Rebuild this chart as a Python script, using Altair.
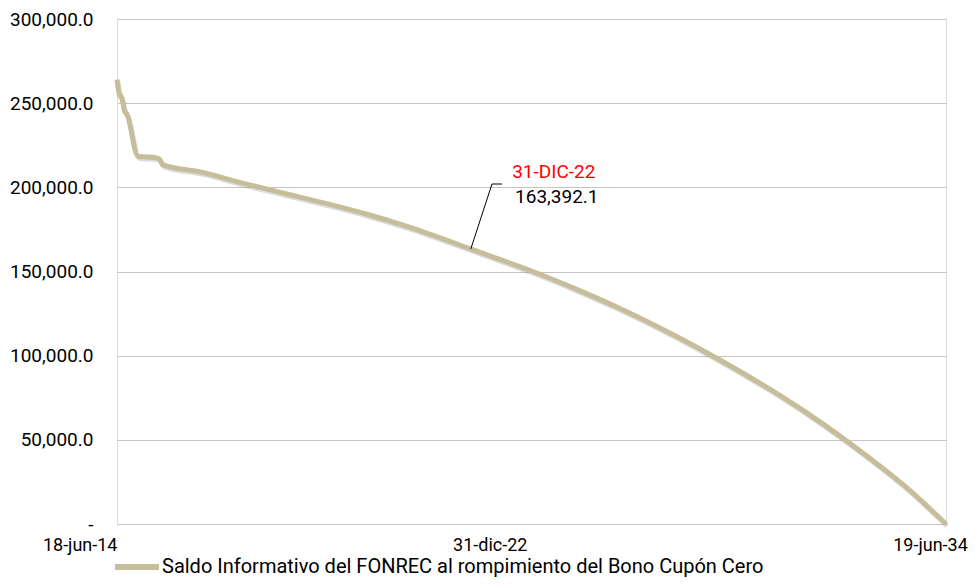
import altair as alt
import pandas as pd

# ---- data ----
fechas = [
    "2014-06-18", "2014-07-10", "2014-07-25", "2014-08-10", "2014-08-25",
    "2014-09-10", "2014-12-20", "2015-06-01", "2015-07-01", "2015-07-25",
    "2016-06-30", "2017-06-30", "2018-06-30", "2019-06-30", "2020-06-30",
    "2021-06-30", "2022-12-31", "2023-06-30", "2024-06-30", "2025-06-30",
    "2026-06-30", "2027-06-30", "2028-06-30", "2029-06-30", "2030-06-30",
    "2031-06-30", "2032-06-30", "2033-06-30", "2034-06-19",
]
saldos = [
    264000, 255000, 254000, 250000, 245000,
    244000, 218500, 217500, 216500, 213500,
    209000, 202500, 196500, 190500, 184000,
    176500, 163392.1, 159000, 150000, 140000,
    129200, 117300, 104400, 90600, 75800,
    59500, 41500, 22000, 0,
]
serie = "Saldo Informativo del FONREC al rompimiento del Bono Cupón Cero"

y_ticks = [0, 50000, 100000, 150000, 200000, 250000, 300000]
x_ticks = ["2014-06-18", "2022-12-31", "2034-06-19"]
x_tick_labels = ["18-jun-14", "31-dic-22", "19-jun-34"]

anot_fecha = "2022-12-31"
anot_valor = 163392.1
anot_titulo = "31-DIC-22"

# ---- styling ----
FONT = "Roboto"
LINE_COLOR = "#C6BE9B"
GRID_COLOR = "#C4C4C4"

df = pd.DataFrame({"fecha": pd.to_datetime(fechas), "saldo": saldos, "serie": serie})
ann = pd.DataFrame({"fecha": pd.to_datetime([anot_fecha]), "saldo": [anot_valor], "titulo": [anot_titulo]})

def _dt(s):
    y, m, d = (int(v) for v in s.split("-"))
    return alt.DateTime(year=y, month=m, date=d)

years = [int(s[:4]) for s in x_ticks]
label_expr = " : ".join(
    f"year(datum.value) == {yy} ? '{lab}'" for yy, lab in zip(years, x_tick_labels)
) + " : ''"

x_enc = alt.X(
    "fecha:T",
    scale=alt.Scale(domain=[_dt(x_ticks[0]), _dt(x_ticks[-1])], nice=False),
    axis=alt.Axis(
        values=[_dt(s) for s in x_ticks],
        labelExpr=label_expr,
        title=None,
        grid=False,
        ticks=False,
        domain=False,
        labelFont=FONT,
        labelFontSize=18,
        labelColor="#000000",
        labelPadding=12,
        labelOverlap=False,
        labelFlush=False,
        labelBound=False,
        labelAlign={"condition": {"test": f"year(datum.value) == {years[0]}", "value": "right"}, "value": "center"},
        labelOffset={
            "condition": [
                {"test": f"year(datum.value) == {years[0]}", "value": 0},
                {"test": f"year(datum.value) == {years[1]}", "value": 19},
            ],
            "value": -16,
        },
    ),
)

y_enc = alt.Y(
    "saldo:Q",
    scale=alt.Scale(domain=[0, 300000], nice=False),
    axis=alt.Axis(
        values=y_ticks,
        labelExpr="datum.value == 0 ? '-' : format(datum.value, ',.1f')",
        title=None,
        grid=True,
        gridColor=GRID_COLOR,
        gridWidth=1,
        ticks=False,
        domain=False,
        labelFont=FONT,
        labelFontSize=19,
        labelColor="#000000",
        labelPadding=24,
    ),
)

shadow = alt.Chart(df).mark_line(
    color="#8a8a8a", strokeWidth=5, opacity=0.3, xOffset=1, yOffset=2,
    strokeJoin="round", interpolate="monotone"
).encode(x=x_enc, y=y_enc)

line = alt.Chart(df).mark_line(strokeWidth=5, strokeJoin="round", interpolate="monotone").encode(
    x=x_enc,
    y=y_enc,
    color=alt.Color(
        "serie:N",
        scale=alt.Scale(domain=[serie], range=[LINE_COLOR]),
        legend=alt.Legend(
            title=None,
            orient="none",
            legendX=-5,
            legendY=523,
            padding=0,
            symbolType="stroke",
            symbolStrokeWidth=6,
            symbolSize=1936,
            symbolStrokeColor=LINE_COLOR,
            labelFont=FONT,
            labelFontSize=20,
            labelColor="#000000",
            labelLimit=0,
            labelOffset=0,
        ),
    ),
)

leader = alt.Chart(ann).mark_rule(color="#000000", strokeWidth=1).encode(
    x="fecha:T", y="saldo:Q", x2=alt.value(375), y2=alt.value(165)
)
elbow = alt.Chart(ann).mark_rule(color="#000000", strokeWidth=1).encode(
    x=alt.value(375), x2=alt.value(385), y=alt.value(165)
)
txt_red = alt.Chart(ann).mark_text(
    color="#FF0000", font=FONT, fontSize=19, dx=83, dy=-77, baseline="middle", align="center"
).encode(x="fecha:T", y="saldo:Q", text="titulo:N")
txt_val = alt.Chart(ann).mark_text(
    color="#000000", font=FONT, fontSize=19, dx=86, dy=-52, baseline="middle", align="center"
).encode(x="fecha:T", y="saldo:Q", text=alt.Text("saldo:Q", format=",.1f"))

chart = alt.layer(shadow, line, leader, elbow, txt_red, txt_val).properties(
    width=829,
    height=505,
    autosize=alt.AutoSizeParams(type="none"),
    padding={"left": 109, "top": 11, "right": 24, "bottom": 53},
).configure_view(stroke=None).configure(background="white")

chart.save("out.html", embed_options={"renderer": "svg", "actions": False})
